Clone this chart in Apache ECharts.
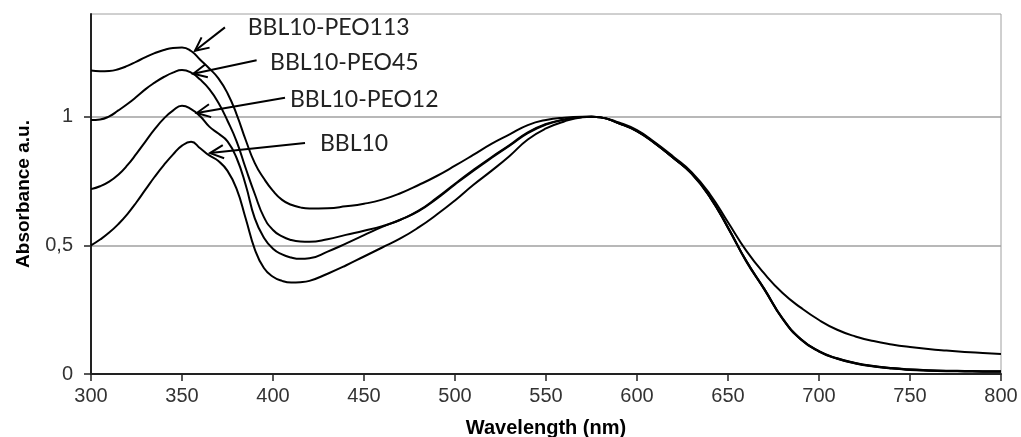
<!DOCTYPE html>
<html>
<head>
<meta charset="utf-8">
<script src="https://cdn.jsdelivr.net/npm/echarts@6/dist/echarts.min.js"></script>
<style>
html, body { margin: 0; padding: 0; background: #fff; }
#fig_absorbance { width: 1021px; height: 437px; }
</style>
</head>
<body>
<div id="fig_absorbance"></div>
<script>
// wavelength grid (nm), shared by all four spectra
var wavelengths = [
    300, 305, 310, 315, 320, 325, 330, 335, 340, 345, 350, 355, 360, 365, 370, 375, 380, 385, 390, 395, 400, 405, 410, 415, 420,
    430, 440, 450, 460, 470, 480, 490, 500, 510, 520, 530, 540, 550, 560, 570,
    575, 580,
    590, 600, 610, 620, 630, 640, 650, 660, 670, 680, 690, 700, 710, 720, 730, 740, 750, 760, 770, 780, 790, 800
];

var abs_peo113 = [
    1.180, 1.177, 1.178, 1.185, 1.198, 1.215, 1.232, 1.248, 1.260, 1.268, 1.270, 1.256, 1.222, 1.188, 1.150, 1.092, 1.010, 0.910, 0.820, 0.760, 0.712, 0.677, 0.658, 0.648, 0.644,
    0.645, 0.652, 0.662, 0.678, 0.703, 0.735, 0.770, 0.810, 0.852, 0.895, 0.932, 0.968, 0.988, 0.997, 1.000,
    1.000, 0.998,
    0.978, 0.948, 0.900, 0.845, 0.785, 0.700, 0.590, 0.480, 0.390, 0.315, 0.258, 0.210, 0.172, 0.146, 0.128, 0.115, 0.105, 0.097, 0.091, 0.086, 0.082, 0.078
];

var abs_peo45 = [
    0.988, 0.990, 1.002, 1.025, 1.050, 1.078, 1.108, 1.133, 1.155, 1.172, 1.182, 1.172, 1.145, 1.108, 1.055, 0.985, 0.905, 0.800, 0.700, 0.610, 0.560, 0.535, 0.521, 0.515, 0.514,
    0.524, 0.541, 0.557, 0.575, 0.600, 0.635, 0.685, 0.740, 0.793, 0.843, 0.890, 0.940, 0.972, 0.990, 0.999,
    1.000, 0.998,
    0.975, 0.945, 0.897, 0.840, 0.780, 0.690, 0.570, 0.440, 0.330, 0.215, 0.135, 0.088, 0.060, 0.042, 0.030, 0.022, 0.017, 0.014, 0.012, 0.011, 0.010, 0.010
];

var abs_peo12 = [
    0.719, 0.730, 0.748, 0.775, 0.812, 0.857, 0.905, 0.952, 0.993, 1.024, 1.043, 1.030, 1.002, 0.962, 0.935, 0.905, 0.840, 0.735, 0.605, 0.530, 0.487, 0.465, 0.453, 0.448, 0.450,
    0.476, 0.507, 0.540, 0.572, 0.600, 0.633, 0.682, 0.737, 0.790, 0.840, 0.888, 0.937, 0.970, 0.989, 0.999,
    1.000, 0.998,
    0.975, 0.944, 0.896, 0.840, 0.778, 0.688, 0.568, 0.438, 0.328, 0.214, 0.134, 0.087, 0.059, 0.041, 0.029, 0.021, 0.016, 0.013, 0.011, 0.010, 0.009, 0.009
];

var abs_bbl10 = [
    0.500, 0.523, 0.550, 0.583, 0.622, 0.668, 0.718, 0.767, 0.812, 0.853, 0.888, 0.903, 0.878, 0.850, 0.828, 0.790, 0.720, 0.605, 0.485, 0.412, 0.378, 0.362, 0.356, 0.357, 0.362,
    0.390, 0.422, 0.457, 0.492, 0.527, 0.570, 0.620, 0.675, 0.735, 0.790, 0.848, 0.912, 0.955, 0.982, 0.998,
    1.000, 0.998,
    0.975, 0.945, 0.897, 0.840, 0.780, 0.690, 0.570, 0.440, 0.330, 0.216, 0.136, 0.089, 0.061, 0.043, 0.031, 0.023, 0.018, 0.015, 0.013, 0.012, 0.011, 0.011
];

var series_names = ['BBL10-PEO113', 'BBL10-PEO45', 'BBL10-PEO12', 'BBL10'];
var series_values = [abs_peo113, abs_peo45, abs_peo12, abs_bbl10];

var y_ticks = [0, 0.5, 1];

// annotation labels and arrows, in data coordinates [nm, absorbance]
var label_pos = [[386.1, 1.348], [398.4, 1.211], [409.3, 1.067], [425.8, 0.898]];
var arrow_from = [[373.6, 1.348], [391.0, 1.220], [406.6, 1.074], [417.6, 0.898]];
var arrow_to = [[357.1, 1.257], [356.2, 1.168], [358.1, 1.015], [365.4, 0.859]];

var fig_absorbance = {
    plot_id: 'fig_absorbance',
    plot_chart: null,

    make_series: function() {
        var series = [];
        for (let i = 0; i < series_names.length; i++) {
            series.push({
                name: series_names[i],
                type: 'line',
                smooth: 0.5,
                showSymbol: false,
                lineStyle: { color: '#000', width: 2 },
                data: wavelengths.map(function(w, idx) {
                    return [w, series_values[i][idx]];
                })
            });
        }
        return series;
    },

    // arrows + labels, placed after the grid exists
    make_graphic: function() {
        var chart = this.plot_chart;
        var els = [];
        for (let i = 0; i < series_names.length; i++) {
            var p0 = chart.convertToPixel({ gridIndex: 0 }, arrow_from[i]);
            var p1 = chart.convertToPixel({ gridIndex: 0 }, arrow_to[i]);
            var pt = chart.convertToPixel({ gridIndex: 0 }, label_pos[i]);
            var ang = Math.atan2(p0[1] - p1[1], p0[0] - p1[0]);
            var len = 15, spread = 0.45;
            var h1 = [p1[0] + len * Math.cos(ang + spread), p1[1] + len * Math.sin(ang + spread)];
            var h2 = [p1[0] + len * Math.cos(ang - spread), p1[1] + len * Math.sin(ang - spread)];
            els.push({
                type: 'polyline',
                shape: { points: [p0, p1] },
                style: { stroke: '#000', lineWidth: 2, fill: null }
            });
            els.push({
                type: 'polyline',
                shape: { points: [h1, p1, h2] },
                style: { stroke: '#000', lineWidth: 2, fill: null }
            });
            els.push({
                type: 'text',
                x: pt[0],
                y: pt[1],
                style: {
                    text: series_names[i],
                    fill: '#222',
                    fontSize: 23,
                    fontFamily: 'Lato',
                    align: 'left',
                    verticalAlign: 'middle'
                }
            });
        }
        return els;
    },

    init: function() {
        this.option = {
            animation: false,
            grid: {
                left: 91,
                right: 20,
                top: 14,
                bottom: 63,
                outerBoundsMode: 'none',
                show: true,
                borderColor: '#a0a0a0',
                borderWidth: 1
            },
            xAxis: {
                type: 'value',
                min: 300,
                max: 800,
                interval: 50,
                name: 'Wavelength (nm)',
                nameLocation: 'middle',
                nameGap: 44,
                nameTextStyle: { fontFamily: 'Liberation Sans', fontWeight: 'bold', fontSize: 20, color: '#000' },
                axisLine: { lineStyle: { color: '#222', width: 2 } },
                axisTick: { inside: false, length: 7, lineStyle: { color: '#222', width: 1.5 } },
                axisLabel: { fontFamily: 'Liberation Sans', fontSize: 20, color: '#333', margin: 12 },
                splitLine: { show: false }
            },
            yAxis: {
                type: 'value',
                min: 0,
                max: 1.4,
                interval: 0.5,
                name: 'Absorbance a.u.',
                nameLocation: 'middle',
                nameGap: 58,
                nameTextStyle: { fontFamily: 'Liberation Sans', fontWeight: 'bold', fontSize: 19, color: '#000' },
                axisLine: { show: true, lineStyle: { color: '#222', width: 2 } },
                axisTick: { show: true, length: 7, customValues: y_ticks, lineStyle: { color: '#222', width: 1.5 } },
                axisLabel: {
                    customValues: y_ticks,
                    fontFamily: 'Liberation Sans', fontSize: 20, color: '#333', margin: 18,
                    formatter: function(v) { return String(v).replace('.', ','); }
                },
                splitLine: { show: true, lineStyle: { color: '#a0a0a0', width: 1.5 } }
            },
            series: this.make_series()
        };

        this.plot_chart = echarts.init(document.getElementById(this.plot_id), null, { renderer: 'canvas' });
        this.plot_chart.setOption(this.option);
        this.plot_chart.setOption({ graphic: this.make_graphic() });
    }
};

fig_absorbance.init();
</script>
</body>
</html>
